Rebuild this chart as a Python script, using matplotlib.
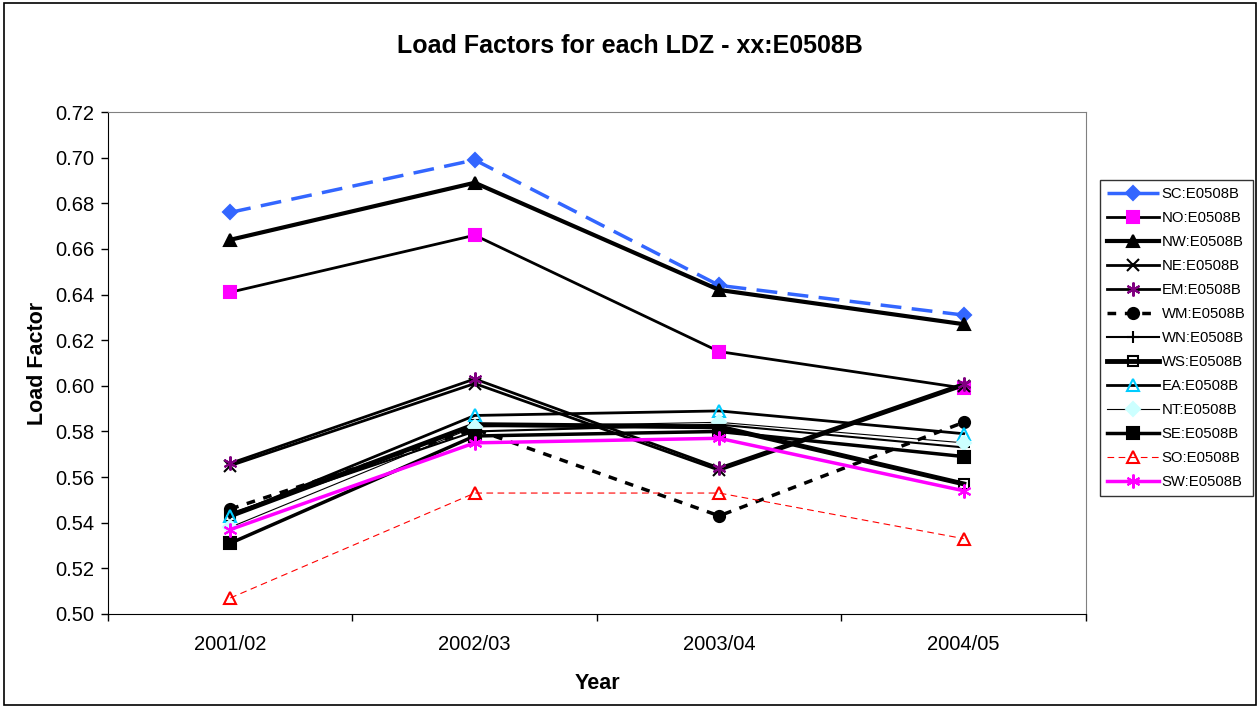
import numpy as np
import matplotlib
matplotlib.use("Agg")
import matplotlib.pyplot as plt
from matplotlib.patches import Rectangle

plt.rcParams['font.family'] = ['Liberation Sans', 'DejaVu Sans']

# Data
years = ['2001/02', '2002/03', '2003/04', '2004/05']
sc = [0.676, 0.699, 0.644, 0.631]
no = [0.641, 0.666, 0.615, 0.599]
nw = [0.664, 0.689, 0.642, 0.627]
ne = [0.565, 0.601, 0.563, 0.600]
em = [0.566, 0.603, 0.564, 0.601]
wm = [0.546, 0.581, 0.543, 0.584]
wn = [0.544, 0.580, 0.583, 0.573]
ws = [0.543, 0.583, 0.582, 0.557]
ea = [0.543, 0.587, 0.589, 0.579]
nt = [0.538, 0.582, 0.584, 0.575]
se = [0.531, 0.578, 0.580, 0.569]
so = [0.507, 0.553, 0.553, 0.533]
sw = [0.537, 0.575, 0.577, 0.554]

asterisk = (6, 2, 0)

# (label, values, line color, linestyle, linewidth, marker, marker face, marker edge, marker size)
series = [
    ('SC:E0508B', sc, '#3366FF', (0, (6, 3)), 2.5, 'D', '#3366FF', '#3366FF', 7),
    ('NO:E0508B', no, 'black', '-', 2.0, 's', '#FF00FF', '#FF00FF', 8),
    ('NW:E0508B', nw, 'black', '-', 3.0, '^', 'black', 'black', 8),
    ('NE:E0508B', ne, 'black', '-', 2.0, 'x', 'none', 'black', 8),
    ('EM:E0508B', em, 'black', '-', 2.0, asterisk, 'none', '#800080', 10),
    ('WM:E0508B', wm, 'black', (0, (2.5, 2.5)), 2.5, 'o', 'black', 'black', 8),
    ('WN:E0508B', wn, 'black', '-', 1.5, '+', 'none', 'black', 9),
    ('WS:E0508B', ws, 'black', '-', 3.5, 's', 'none', 'black', 7),
    ('EA:E0508B', ea, 'black', '-', 2.0, '^', 'none', '#00CCFF', 8),
    ('NT:E0508B', nt, 'black', '-', 0.8, 'D', '#CCFFFF', '#CCFFFF', 7),
    ('SE:E0508B', se, 'black', '-', 2.5, 's', 'black', 'black', 8),
    ('SO:E0508B', so, '#FF0000', (0, (6, 4)), 0.8, '^', 'none', '#FF0000', 8),
    ('SW:E0508B', sw, '#FF00FF', '-', 2.5, asterisk, 'none', '#FF00FF', 10),
]

fig = plt.figure(figsize=(12.6, 7.08), dpi=100)
ax = fig.add_axes([0.0857, 0.1328, 0.7762, 0.709])

x = np.arange(len(years))
for label, vals, col, ls, lw, mk, mfc, mec, ms in series:
    ax.plot(x, vals, color=col, linestyle=ls, linewidth=lw, marker=mk,
            markerfacecolor=mfc, markeredgecolor=mec, markersize=ms,
            markeredgewidth=1.5, label=label)

ax.set_xlim(-0.5, len(years) - 0.5)
ax.set_ylim(0.50, 0.72)
ax.set_yticks(np.arange(0.50, 0.7201, 0.02))
ax.yaxis.set_major_formatter(plt.FormatStrFormatter('%.2f'))
ax.tick_params(axis='y', direction='out', length=5, labelsize=14.5, width=1, pad=5)

# Excel-style category axis: ticks between categories, labels at centres
ax.set_xticks(np.arange(-0.5, len(years), 1.0))
ax.set_xticklabels([])
ax.set_xticks(x, minor=True)
ax.set_xticklabels(years, minor=True, fontsize=14.5)
ax.tick_params(axis='x', which='major', direction='out', length=5, width=1)
ax.tick_params(axis='x', which='minor', length=0, pad=15)

for s in ['top', 'right']:
    ax.spines[s].set_color('#808080')
for s in ['left', 'bottom']:
    ax.spines[s].set_color('black')

ax.set_xlabel('Year', fontsize=15.5, fontweight='bold', labelpad=14)
ax.set_ylabel('Load Factor', fontsize=15.5, fontweight='bold', labelpad=5)
fig.text(0.5, 0.935, 'Load Factors for each LDZ - xx:E0508B', ha='center', va='center',
         fontsize=18, fontweight='bold')

leg = fig.legend(loc='upper left', bbox_to_anchor=(0.873, 0.746), fontsize=10.7,
                 frameon=True, fancybox=False, edgecolor='black', handlelength=3.5,
                 handletextpad=0.15, labelspacing=0.67, borderpad=0.5, borderaxespad=0)
leg.get_frame().set_linewidth(1.0)

fig.patches.append(Rectangle((0.003, 0.004), 0.994, 0.992, transform=fig.transFigure,
                             fill=False, edgecolor='black', linewidth=1.2))

plt.savefig("out.png")
